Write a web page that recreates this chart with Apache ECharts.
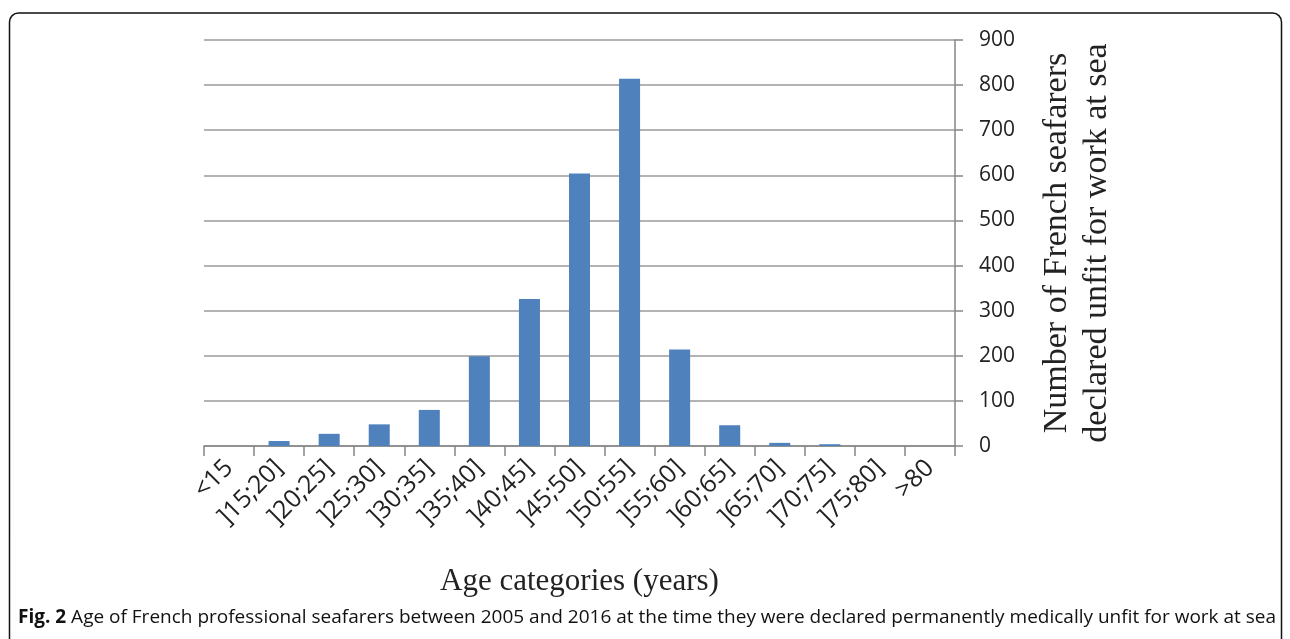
<!DOCTYPE html>
<html>
<head>
<meta charset="utf-8">
<script src="https://cdn.jsdelivr.net/npm/echarts@6/dist/echarts.min.js"></script>
<style>html,body{margin:0;padding:0;background:#fff}#c{width:1290px;height:639px}</style>
</head>
<body>
<div id="c"></div>
<script>
const categories = ['<15', ']15;20]', ']20;25]', ']25;30]', ']30;35]', ']35;40]', ']40;45]', ']45;50]', ']50;55]', ']55;60]', ']60;65]', ']65;70]', ']70;75]', ']75;80]', '>80'];
const seafarers = [0, 11, 27, 48, 80, 199, 326, 604, 814, 214, 46, 7, 4, 0, 0];
const yTicks = { min: 0, max: 900, interval: 100 };
const xName = 'Age categories (years)';
const yName = 'Number of French seafarers\ndeclared unfit for work at sea';
const captionBold = 'Fig. 2';
const captionText = ' Age of French professional seafarers between 2005 and 2016 at the time they were declared permanently medically unfit for work at sea';

const chart = echarts.init(document.getElementById('c'), null, { renderer: 'canvas' });
chart.setOption({
  animation: false,
  backgroundColor: '#fff',
  grid: { left: 204, right: 335, top: 40, bottom: 193, containLabel: false },
  xAxis: {
    type: 'category',
    data: categories,
    name: xName,
    nameLocation: 'middle',
    nameGap: 120,
    nameTextStyle: { fontFamily: 'Liberation Serif', fontSize: 31, color: '#222' },
    axisLine: { lineStyle: { color: '#868686', width: 1.5 } },
    axisTick: { show: true, length: 10, alignWithLabel: false, lineStyle: { color: '#868686', width: 1.5 } },
    axisLabel: { rotate: 45, interval: 0, fontFamily: 'Open Sans', fontSize: 25, color: '#222', margin: 18 }
  },
  yAxis: {
    type: 'value',
    position: 'right',
    min: yTicks.min, max: yTicks.max, interval: yTicks.interval,
    name: yName,
    nameLocation: 'middle',
    nameRotate: 90,
    nameGap: 82,
    nameTextStyle: { fontFamily: 'Liberation Serif', fontSize: 34, color: '#222', lineHeight: 40, padding: [0, 0, 12, 0] },
    axisLine: { show: true, lineStyle: { color: '#868686', width: 1.5 } },
    axisTick: { show: true, length: 8, lineStyle: { color: '#868686', width: 1.5 } },
    axisLabel: { fontFamily: 'Open Sans', fontSize: 21, color: '#222', margin: 24 },
    splitLine: { lineStyle: { color: '#9a9a9a', width: 1.5 } }
  },
  series: [{
    type: 'bar',
    data: seafarers,
    barWidth: '42%',
    itemStyle: { color: '#4F81BD' }
  }],
  graphic: [
    {
      type: 'rect',
      shape: { x: 9.5, y: 13, width: 1272, height: 660, r: 9 },
      style: { fill: 'none', stroke: '#111', lineWidth: 1.5 },
      silent: true
    },
    {
      type: 'text',
      left: 18, top: 608,
      style: {
        text: '{b|' + captionBold + '}{n|' + captionText + '}',
        rich: {
          b: { fontFamily: 'Liberation Sans Narrow, Open Sans', fontWeight: 'bold', fontSize: 19, fill: '#111' },
          n: { fontFamily: 'Liberation Sans Narrow, Open Sans', fontSize: 19, fill: '#111' }
        }
      }
    }
  ]
});
</script>
</body>
</html>
